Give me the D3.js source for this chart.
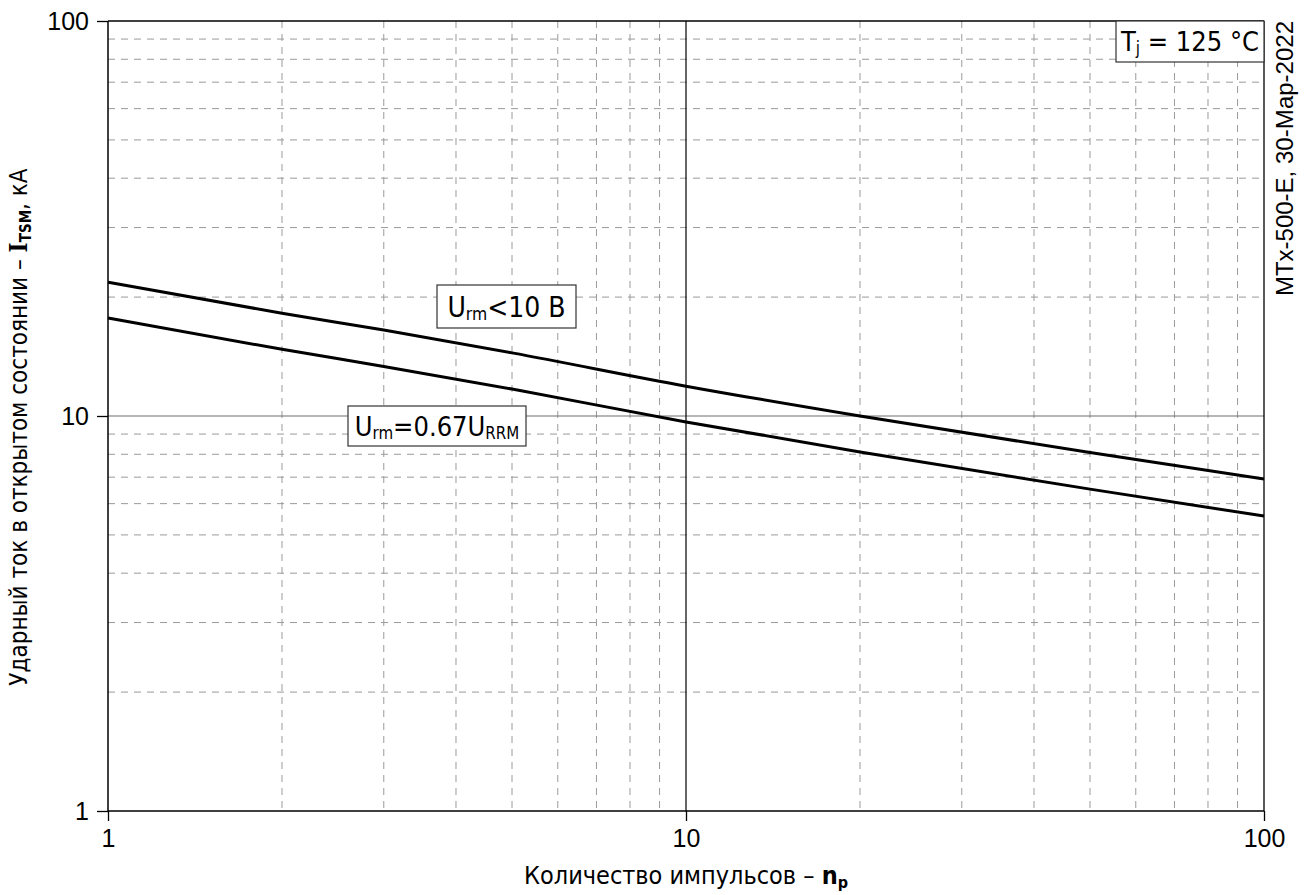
<!DOCTYPE html>
<html>
<head>
<meta charset="utf-8">
<script src="https://cdn.jsdelivr.net/npm/d3@7"></script>
<style>
  html, body { margin: 0; padding: 0; background: #fff; }
  svg { display: block; }
  .sans { font-family: "DejaVu Sans Condensed", "DejaVu Sans", sans-serif; font-stretch: condensed; }
  .tick-label { font-family: "Liberation Sans", Arial, sans-serif; }
</style>
</head>
<body>
<svg id="chart" width="1304" height="895"></svg>
<script>
// Number of surge pulses (x) and surge on-state current in kA (y)
const pulses = [1, 2, 3, 5, 10, 20, 50, 100];
const itsmLowVoltage = [21.8, 18.2, 16.5, 14.45, 11.9, 10.0, 8.08, 6.93];     // U_rm < 10 V
const itsmRatedVoltage = [17.7, 14.75, 13.35, 11.7, 9.66, 8.11, 6.53, 5.58];  // U_rm = 0.67 U_RRM

const xMajorTicks = [1, 10, 100];
const yMajorTicks = [1, 10, 100];
const minorMultipliers = [2, 3, 4, 5, 6, 7, 8, 9];

const svg = d3.select("#chart");
const margin = { left: 108, top: 21, right: 40, bottom: 84 };
const pw = 1264 - margin.left, ph = 811 - margin.top;

const x = d3.scaleLog().domain([1, 100]).range([margin.left, margin.left + pw]);
const y = d3.scaleLog().domain([1, 100]).range([margin.top + ph, margin.top]);

const minorX = [], minorY = [];
[1, 10].forEach(d => minorMultipliers.forEach(m => { minorX.push(d * m); minorY.push(d * m); }));

const g = svg.append("g");

// dashed minor grid
g.selectAll(".gx").data(minorX).join("line")
  .attr("x1", d => x(d)).attr("x2", d => x(d))
  .attr("y1", margin.top).attr("y2", margin.top + ph)
  .attr("stroke", "#9a9a9a").attr("stroke-width", 1).attr("stroke-dasharray", "7,6");
g.selectAll(".gy").data(minorY).join("line")
  .attr("y1", d => y(d)).attr("y2", d => y(d))
  .attr("x1", margin.left).attr("x2", margin.left + pw)
  .attr("stroke", "#9a9a9a").attr("stroke-width", 1).attr("stroke-dasharray", "7,6");

// decade grid lines
g.append("line")
  .attr("x1", margin.left).attr("x2", margin.left + pw)
  .attr("y1", y(10)).attr("y2", y(10))
  .attr("stroke", "#6e6e6e").attr("stroke-width", 1.2);
g.append("line")
  .attr("x1", x(10)).attr("x2", x(10))
  .attr("y1", margin.top).attr("y2", margin.top + ph)
  .attr("stroke", "#000").attr("stroke-width", 1.2);

// frame
g.append("line").attr("x1", margin.left).attr("x2", margin.left + pw)
  .attr("y1", margin.top).attr("y2", margin.top).attr("stroke", "#000").attr("stroke-width", 1.3);
g.append("line").attr("x1", margin.left + pw).attr("x2", margin.left + pw)
  .attr("y1", margin.top).attr("y2", margin.top + ph).attr("stroke", "#000").attr("stroke-width", 1.3);

// axes
const xAxis = d3.axisBottom(x).tickValues(xMajorTicks).tickFormat(d3.format("d")).tickSize(10).tickPadding(8);
const yAxis = d3.axisLeft(y).tickValues(yMajorTicks).tickFormat(d3.format("d")).tickSize(11).tickPadding(8);

const gx = svg.append("g").attr("transform", `translate(0,${margin.top + ph})`).call(xAxis);
const gy = svg.append("g").attr("transform", `translate(${margin.left},0)`).call(yAxis);
[gx, gy].forEach(a => {
  a.select(".domain").attr("stroke", "#000").attr("stroke-width", 1.5);
  a.selectAll(".tick line").attr("stroke", "#000").attr("stroke-width", 1.3);
  a.selectAll(".tick text").attr("class", "tick-label").attr("font-size", 25).attr("fill", "#000");
});
gx.select(".domain").attr("d", `M${margin.left},0H${margin.left + pw}`);
gy.select(".domain").attr("d", `M0,${margin.top}V${margin.top + ph}`);

// curves
const line = d3.line().x(d => x(d[0])).y(d => y(d[1])).curve(d3.curveMonotoneX);
[itsmLowVoltage, itsmRatedVoltage].forEach(series => {
  svg.append("path")
    .datum(pulses.map((p, i) => [p, series[i]]))
    .attr("d", line)
    .attr("fill", "none").attr("stroke", "#000").attr("stroke-width", 3);
});

// labelled boxes
function labelBox(bx, by, bw, bh, parts, size) {
  const grp = svg.append("g");
  grp.append("rect").attr("x", bx).attr("y", by).attr("width", bw).attr("height", bh)
    .attr("fill", "#fff").attr("stroke", "#333").attr("stroke-width", 1.2);
  const t = grp.append("text").attr("class", "sans")
    .attr("x", bx + bw / 2).attr("y", by + bh / 2 + size * 0.36)
    .attr("text-anchor", "middle").attr("font-size", size).attr("fill", "#000");
  parts.forEach(p => {
    const ts = t.append("tspan").text(p.t);
    if (p.sub) ts.attr("font-size", size * 0.62).attr("dy", size * 0.12);
    else if (p.after) ts.attr("dy", -size * 0.12);
  });
  return grp;
}

labelBox(1116, 21, 148, 41, [{ t: "T" }, { t: "j", sub: true }, { t: " = 125 °C", after: true }], 27);
labelBox(437, 285, 139, 43, [{ t: "U" }, { t: "rm", sub: true }, { t: "<10 B", after: true }], 28);
labelBox(348, 406, 178, 40, [{ t: "U" }, { t: "rm", sub: true }, { t: "=0.67U", after: true }, { t: "RRM", sub: true }], 27);

// axis titles
const xt = svg.append("text").attr("class", "sans")
  .attr("x", x(10)).attr("y", 884).attr("text-anchor", "middle")
  .attr("font-size", 25).attr("fill", "#000");
xt.append("tspan").text("Количество импульсов  – ");
xt.append("tspan").text("n").attr("font-weight", "bold");
xt.append("tspan").text("p").attr("font-weight", "bold").attr("font-size", 16).attr("dy", 4);

const yt = svg.append("text").attr("class", "sans")
  .attr("transform", `translate(27,427) rotate(-90)`)
  .attr("text-anchor", "middle").attr("font-size", 24).attr("fill", "#000");
yt.append("tspan").text("Ударный ток в открытом состоянии – ");
yt.append("tspan").text("I").attr("font-weight", "bold").attr("font-family", "'DejaVu Serif', serif");
yt.append("tspan").text("TSM").attr("font-weight", "bold").attr("font-size", 15).attr("dy", 4);
yt.append("tspan").text(", кА").attr("dy", -4);

// document stamp
svg.append("text").attr("class", "tick-label")
  .attr("transform", `translate(1293,21) rotate(-90)`)
  .attr("text-anchor", "end").attr("font-size", 24).attr("fill", "#000")
  .text("MTx-500-E, 30-Мар-2022");
</script>
</body>
</html>
